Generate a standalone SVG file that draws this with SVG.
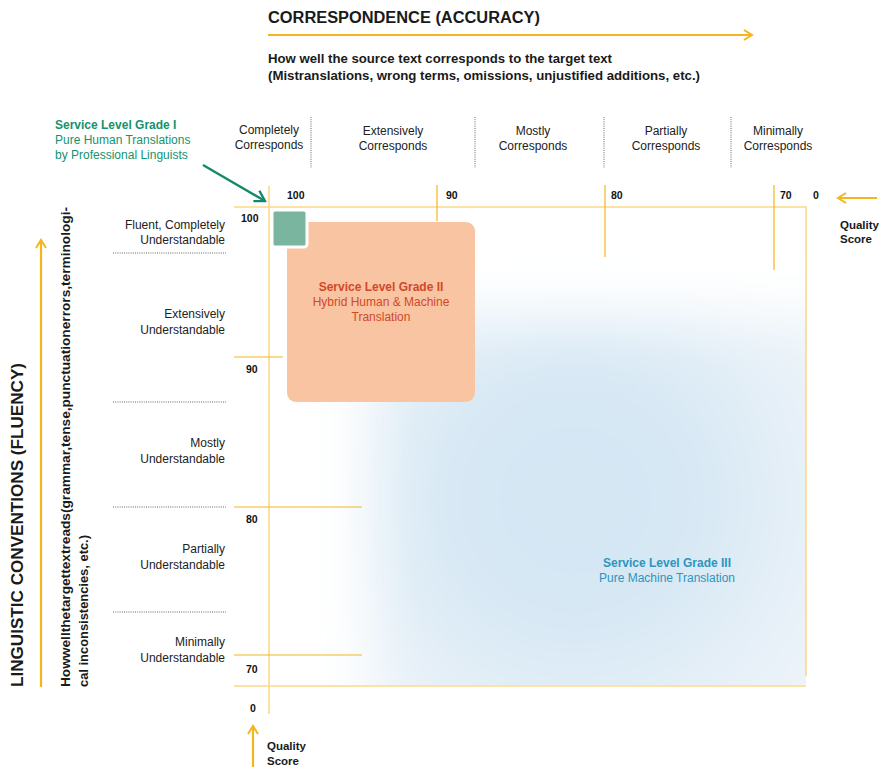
<svg xmlns="http://www.w3.org/2000/svg" width="887" height="777" viewBox="0 0 887 777">
<defs>
<style>
.t{font-family:"Liberation Sans",Arial,sans-serif;fill:#1a1a1a}
.b{font-weight:bold}
.lab{font-size:12px;fill:#222}
.num{font-size:10.5px;font-weight:bold;fill:#111;font-family:"Liberation Sans",Arial,sans-serif}
.ax{stroke:#fbd98a;stroke-width:1.6;fill:none}
.tk{stroke:#f5b51e;stroke-width:1.2;fill:none}
.dot{stroke:#666;stroke-width:1;stroke-dasharray:1 1.2;fill:none}
.arr{stroke:#f5b51e;stroke-width:2.2;fill:none}
</style>
<radialGradient id="blue" gradientUnits="userSpaceOnUse" cx="575" cy="500" r="320">
<stop offset="0" stop-color="#d3e6f3"/>
<stop offset="0.4" stop-color="#d7e8f4"/>
<stop offset="0.75" stop-color="#e8f1f8"/>
<stop offset="1" stop-color="#eef5fa"/>
</radialGradient>
<filter id="soft" x="-20%" y="-20%" width="140%" height="140%">
<feGaussianBlur stdDeviation="30"/>
</filter>
<clipPath id="plot">
<rect x="270" y="208" width="536" height="477"/>
</clipPath>
<marker id="chev" viewBox="0 0 12 12" refX="10" refY="6" markerWidth="12" markerHeight="12" markerUnits="userSpaceOnUse" orient="auto">
<path d="M2 1 L10 6 L2 11" fill="none" stroke="#f5b51e" stroke-width="2"/>
</marker>
<marker id="gchev" viewBox="0 0 14 14" refX="12" refY="7" markerWidth="14" markerHeight="14" markerUnits="userSpaceOnUse" orient="auto">
<path d="M2 1 L12 7 L2 13" fill="none" stroke="#14896a" stroke-width="2.4"/>
</marker>
</defs>
<rect width="887" height="777" fill="#fff"/>

<!-- Grade III background -->
<g id="grade3">
<g clip-path="url(#plot)">
<rect x="372" y="318" width="545" height="470" fill="url(#blue)" filter="url(#soft)"/>
</g>
<text class="t b" x="667" y="567" text-anchor="middle" font-size="12" style="fill:#2e95bf">Service Level Grade III</text>
<text class="t" x="667" y="582" text-anchor="middle" font-size="12" style="fill:#2e95bf">Pure Machine Translation</text>
</g>

<!-- axes frame -->
<g id="axes">
<path class="ax" d="M234 207 H806 V676"/>
<path class="ax" d="M269 186 V714"/>
<path class="ax" d="M234 686 H806"/>
<path class="tk" d="M437 185 V221 M605 185 V257 M774 185 V270"/>
<path class="tk" d="M234 357 H283 M234 507 H362 M234 655 H362"/>
<text class="num" x="287" y="199">100</text>
<text class="num" x="446" y="199">90</text>
<text class="num" x="611" y="199">80</text>
<text class="num" x="780" y="199">70</text>
<text class="num" x="813" y="199">0</text>
<text class="num" x="241" y="222">100</text>
<text class="num" x="246" y="373">90</text>
<text class="num" x="246" y="523">80</text>
<text class="num" x="246" y="673">70</text>
<text class="num" x="250" y="712">0</text>
</g>

<!-- Grade II -->
<g id="grade2">
<rect x="287" y="222" width="188" height="180" rx="9" fill="#f8c4a1"/>
<text class="t b" x="381" y="291" text-anchor="middle" font-size="12" style="fill:#d2482a">Service Level Grade II</text>
<text class="t" x="381" y="306" text-anchor="middle" font-size="12" style="fill:#d2482a">Hybrid Human &amp; Machine</text>
<text class="t" x="381" y="321" text-anchor="middle" font-size="12" style="fill:#d2482a">Translation</text>
</g>

<!-- Grade I -->
<g id="grade1">
<rect x="272" y="210" width="35" height="37" rx="3" fill="#7ab5a0" stroke="#fff" stroke-width="3"/>
<text class="t b" x="55" y="129" font-size="12" style="fill:#14936e">Service Level Grade I</text>
<text class="t" x="55" y="144" font-size="12" style="fill:#14936e">Pure Human Translations</text>
<text class="t" x="55" y="159" font-size="12" style="fill:#14936e">by Professional Linguists</text>
</g>

<!-- top header -->
<g id="top-axis">
<text class="t b" x="268" y="23" font-size="16" textLength="272" lengthAdjust="spacingAndGlyphs">CORRESPONDENCE (ACCURACY)</text>
<text class="t b" x="268" y="63" font-size="13" textLength="344" lengthAdjust="spacingAndGlyphs">How well the source text corresponds to the target text</text>
<text class="t b" x="268" y="80" font-size="13" textLength="432" lengthAdjust="spacingAndGlyphs">(Mistranslations, wrong terms, omissions, unjustified additions, etc.)</text>
</g>

<!-- column headers -->
<g id="columns">
<path class="dot" d="M311 117 V168 M475 117 V168 M604 117 V168 M731 117 V168"/>
<text class="t lab" x="269" y="134" text-anchor="middle">Completely</text>
<text class="t lab" x="269" y="149" text-anchor="middle">Corresponds</text>
<text class="t lab" x="393" y="135" text-anchor="middle">Extensively</text>
<text class="t lab" x="393" y="150" text-anchor="middle">Corresponds</text>
<text class="t lab" x="533" y="135" text-anchor="middle">Mostly</text>
<text class="t lab" x="533" y="150" text-anchor="middle">Corresponds</text>
<text class="t lab" x="666" y="135" text-anchor="middle">Partially</text>
<text class="t lab" x="666" y="150" text-anchor="middle">Corresponds</text>
<text class="t lab" x="778" y="135" text-anchor="middle">Minimally</text>
<text class="t lab" x="778" y="150" text-anchor="middle">Corresponds</text>
</g>

<!-- row headers -->
<g id="rows">
<path class="dot" d="M113 253 H226 M113 402 H226 M113 507 H226 M113 612 H226"/>
<text class="t lab" x="225" y="229" text-anchor="end">Fluent, Completely</text>
<text class="t lab" x="225" y="244" text-anchor="end">Understandable</text>
<text class="t lab" x="225" y="318" text-anchor="end">Extensively</text>
<text class="t lab" x="225" y="334" text-anchor="end">Understandable</text>
<text class="t lab" x="225" y="447" text-anchor="end">Mostly</text>
<text class="t lab" x="225" y="463" text-anchor="end">Understandable</text>
<text class="t lab" x="225" y="553" text-anchor="end">Partially</text>
<text class="t lab" x="225" y="569" text-anchor="end">Understandable</text>
<text class="t lab" x="225" y="646" text-anchor="end">Minimally</text>
<text class="t lab" x="225" y="662" text-anchor="end">Understandable</text>
</g>

<!-- left axis -->
<g id="left-axis">
<text class="t b" transform="translate(23 687) rotate(-90)" font-size="16" textLength="324" lengthAdjust="spacingAndGlyphs">LINGUISTIC CONVENTIONS (FLUENCY)</text>
<text class="t b" transform="translate(70 687) rotate(-90)" font-size="12.5" textLength="480" lengthAdjust="spacingAndGlyphs">Howwellthetargettextreads(grammar,tense,punctuationerrors,terminologi-</text>
<text class="t b" transform="translate(88 687) rotate(-90)" font-size="12.5" textLength="152" lengthAdjust="spacingAndGlyphs">cal inconsistencies, etc.)</text>
</g>

<!-- quality score labels -->
<g id="quality-right">
<text class="t b" x="840" y="229" font-size="11.5">Quality</text>
<text class="t b" x="840" y="243" font-size="11.5">Score</text>
</g>
<g id="quality-bottom">
<text class="t b" x="267" y="750" font-size="11.5">Quality</text>
<text class="t b" x="267" y="765" font-size="11.5">Score</text>
</g>

<!-- connectors -->
<g id="connectors">
<path class="arr" d="M268 35 H752" marker-end="url(#chev)"/>
<path class="arr" d="M41 687 V240" marker-end="url(#chev)"/>
<path class="arr" d="M877 198 H838" marker-end="url(#chev)"/>
<path class="arr" d="M253 767 V726" marker-end="url(#chev)"/>
<path d="M203 165 L265 201" stroke="#14896a" stroke-width="2.4" fill="none" marker-end="url(#gchev)"/>
</g>
</svg>
